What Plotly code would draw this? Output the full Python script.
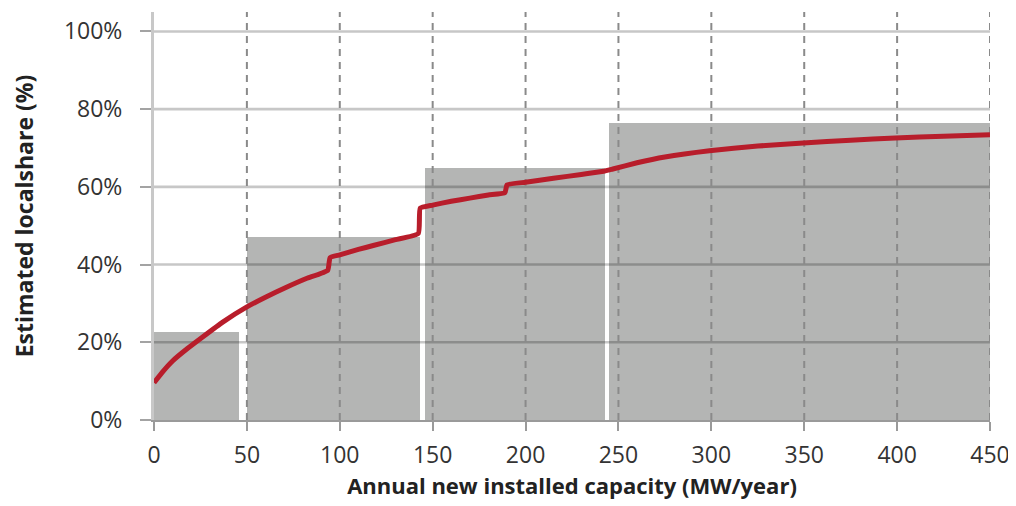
import plotly.graph_objects as go

# Bars (ranges of annual capacity and estimated local share)
bar_start = [0, 50, 146, 245]
bar_end = [46, 143, 243, 450]
bar_share = [22.6, 47.2, 64.9, 76.4]

# Red curve
curve_x = [0, 5, 10, 18, 26, 37, 50, 60, 71, 82, 93.5, 94.8, 100, 110, 118, 130, 142.3, 143.3,
           150, 160, 170, 180, 188.9, 190, 200, 215, 230, 242, 247, 260, 275, 299, 325, 349.5,
           375, 399, 425, 450]
curve_y = [9.6, 12.6, 15.2, 18.4, 21.3, 25.2, 29.1, 31.6, 34.1, 36.4, 38.5, 41.8, 42.5, 43.9,
           44.9, 46.4, 48.0, 54.5, 55.3, 56.3, 57.1, 57.9, 58.5, 60.5, 61.2, 62.2, 63.2, 64.0,
           64.6, 66.2, 67.7, 69.3, 70.5, 71.3, 72.0, 72.6, 73.0, 73.4]

x_ticks = [0, 50, 100, 150, 200, 250, 300, 350, 400, 450]
y_ticks = [0, 20, 40, 60, 80, 100]
y_tick_text = ["0%", "20%", "40%", "60%", "80%", "100%"]

fig = go.Figure()

fig.add_trace(go.Bar(
    x=[(s + e) / 2 for s, e in zip(bar_start, bar_end)],
    y=bar_share,
    width=[e - s for s, e in zip(bar_start, bar_end)],
    marker=dict(color="#b4b5b4", line=dict(width=0)),
    showlegend=False, hoverinfo="skip",
))

# gridlines drawn above the bars
for yv in y_ticks[1:]:
    fig.add_trace(go.Scatter(
        x=[x_ticks[0], x_ticks[-1]], y=[yv, yv], mode="lines",
        line=dict(color="rgba(0,0,0,0.22)", width=2.6),
        showlegend=False, hoverinfo="skip",
    ))
for xv in x_ticks[1:]:
    fig.add_trace(go.Scatter(
        x=[xv, xv], y=[0, 105], mode="lines",
        line=dict(color="#8a8a8a", width=2, dash="7px,6px"),
        showlegend=False, hoverinfo="skip",
    ))

fig.add_trace(go.Scatter(
    x=curve_x, y=curve_y, mode="lines",
    line=dict(color="#b81d2b", width=5, shape="spline", smoothing=0.4),
    showlegend=False,
))

fig.update_layout(
    width=1008, height=498,
    margin=dict(l=146, r=26, t=4, b=86),
    plot_bgcolor="white", paper_bgcolor="white",
    font=dict(family="Open Sans", color="#333333"),
    bargap=0,
)
fig.update_xaxes(
    range=[0, 450], tickvals=x_ticks, ticktext=[str(v) for v in x_ticks],
    showgrid=False, zeroline=False, automargin=False,
    showline=True, linecolor="#9a9a9a", linewidth=2,
    ticks="outside", ticklen=9, tickcolor="#9a9a9a", tickwidth=2,
    tickfont=dict(size=23, color="#333333"), ticklabelstandoff=4,
    title=dict(text="<b>Annual new installed capacity (MW/year)</b>",
               font=dict(size=22, color="#222222"), standoff=3),
)
fig.update_yaxes(
    range=[0, 105], tickvals=y_ticks, ticktext=y_tick_text,
    showgrid=False, zeroline=False, automargin=False,
    showline=True, linecolor="#c8c8c8", linewidth=3,
    ticks="outside", ticklen=11, tickcolor="#a3a3a3", tickwidth=2,
    tickfont=dict(size=23, color="#333333"), ticklabelstandoff=13,
    title=dict(text="<b>Estimated localshare (%)</b>",
               font=dict(size=23, color="#222222"), standoff=24),
)

fig.write_html("out.html")
